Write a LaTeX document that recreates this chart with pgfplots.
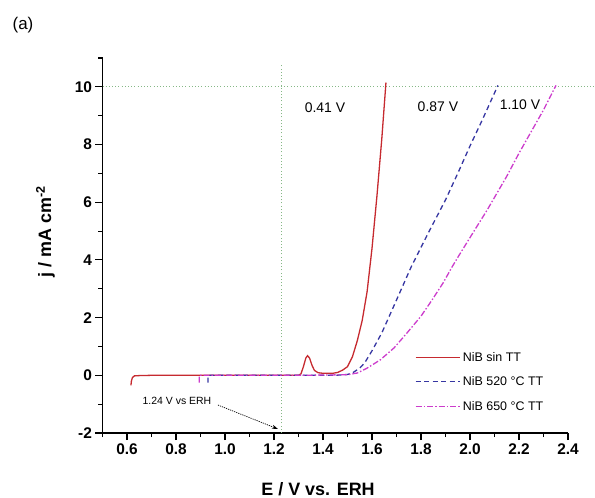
\documentclass[border=0pt]{standalone}
\usepackage{fontspec}
\setmainfont{Liberation Sans}
\usepackage{pgfplots}
\pgfplotsset{compat=1.18}
\usetikzlibrary{arrows.meta}
\definecolor{nib}{HTML}{C62A2F}
\definecolor{nibA}{HTML}{3636A2}
\definecolor{nibB}{HTML}{CC3CCC}
\definecolor{guide}{HTML}{86B886}

\begin{document}
\begin{tikzpicture}
\useasboundingbox (0,0) rectangle (595bp,-498bp);
\node[font=\fontsize{17}{19}\selectfont] at (23bp,-25bp) {(a)};
\begin{axis}[
  at={(102.5bp,-433bp)}, anchor=south west,
  scale only axis, width=465.5bp, height=375bp,
  xmin=0.5, xmax=2.4, ymin=-2, ymax=11, clip=false,
  axis lines*=left, axis line style={line width=1.1pt},
  tick align=outside, major tick length=7bp, minor tick length=4bp,
  tick style={line width=1.1pt, black},
  xtick={0.6,0.8,1.0,1.2,1.4,1.6,1.8,2.0,2.2,2.4},
  xticklabels={0.6,0.8,1.0,1.2,1.4,1.6,1.8,2.0,2.2,2.4},
  minor xtick={0.5,0.7,0.9,1.1,1.3,1.5,1.7,1.9,2.1,2.3},
  ytick={-2,0,2,4,6,8,10}, yticklabels={-2,0,2,4,6,8,10},
  minor ytick={-1,1,3,5,7,9,11},
  ticklabel style={font=\fontsize{15.5}{17}\selectfont\bfseries},
  xlabel={E / V vs. ERH}, ylabel={j / mA cm\textsuperscript{-2}},
  label style={font=\fontsize{18}{20}\selectfont\bfseries},
  xlabel style={at={(axis description cs:0.463,0)}, anchor=center, yshift=-56bp},
  ylabel style={at={(axis description cs:-0.1224,0.536)}, anchor=center},
  legend style={draw=none, fill=none, at={(axis cs:1.775,0.9)}, anchor=north west,
    font=\fontsize{12.5}{14}\selectfont, row sep=9bp, inner sep=0pt,
    nodes={inner sep=2.5bp, xshift=2bp}},
  legend cell align=left,
  legend image code/.code={\draw[#1] (0bp,0bp) -- (44bp,0bp);},
]
\addplot[guide, line width=0.8pt, dash pattern=on 1pt off 2.2pt, forget plot] coordinates {(1.23,-2) (1.23,10.8)};
\addplot[guide, line width=0.8pt, dash pattern=on 1pt off 2.2pt, forget plot] coordinates {(0.5,10) (2.51,10)};

\addplot[nib, line width=1.3pt] coordinates {
(0.616,-0.35) (0.618,-0.2) (0.622,-0.08) (0.630,-0.02) (0.650,-0.01) (0.700,0)
(1.000,0) (1.300,0) (1.310,0.05) (1.320,0.30) (1.330,0.60) (1.337,0.68)
(1.345,0.60) (1.355,0.35) (1.365,0.17) (1.380,0.09) (1.400,0.07) (1.440,0.07)
(1.460,0.10) (1.480,0.18) (1.500,0.30) (1.520,0.64) (1.540,1.20) (1.560,1.90)
(1.580,2.90) (1.600,4.40) (1.620,6.20) (1.640,8.20) (1.657,10.15)};
\addplot[nibA, line width=1.3pt, dash pattern=on 5pt off 3.5pt] coordinates {
(0.931,-0.25) (0.931,0) (1.000,0) (1.300,0) (1.450,0) (1.500,0.03) (1.520,0.08)
(1.550,0.25) (1.570,0.43) (1.600,0.85) (1.640,1.47) (1.700,2.61) (1.760,3.76)
(1.830,4.94) (1.900,6.08) (1.950,7.00) (2.000,7.95) (2.050,8.85) (2.114,10.05)};
\addplot[nibB, line width=1.3pt, dash pattern=on 6pt off 2pt on 1.5pt off 2pt] coordinates {
(0.895,-0.25) (0.895,0) (1.000,0) (1.300,0) (1.500,0.02) (1.540,0.08) (1.580,0.25)
(1.633,0.53) (1.690,0.95) (1.743,1.47) (1.800,2.05) (1.845,2.61) (1.890,3.20)
(1.927,3.76) (1.951,4.10) (2.012,4.94) (2.070,5.73) (2.094,6.08) (2.150,6.90)
(2.200,7.70) (2.250,8.45) (2.300,9.20) (2.351,10.05)};
\legend{NiB sin TT, NiB 520 °C TT, NiB 650 °C TT}

\node[font=\fontsize{14}{16}\selectfont] at (axis cs:1.408,9.27) {0.41 V};
\node[font=\fontsize{14}{16}\selectfont] at (axis cs:1.869,9.30) {0.87 V};
\node[font=\fontsize{14}{16}\selectfont] at (axis cs:2.204,9.38) {1.10 V};
\node[font=\fontsize{10.5}{12}\selectfont] at (axis cs:0.804,-0.9) {1.24 V vs ERH};
\draw[-{Stealth[length=6pt,width=4pt]}, line width=0.7pt, dash pattern=on 1.2pt off 1pt]
  (axis cs:0.971,-1.03) -- (axis cs:1.216,-1.86);
\end{axis}
\end{tikzpicture}
\end{document}
